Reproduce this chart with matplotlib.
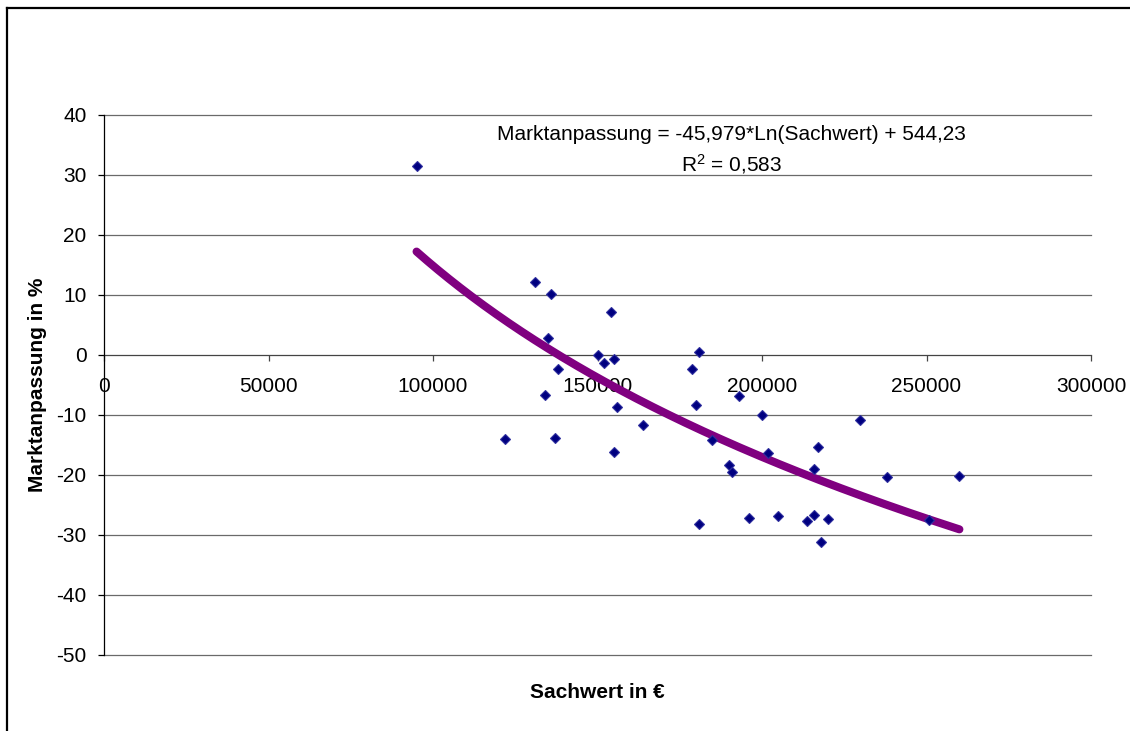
import numpy as np
import matplotlib.pyplot as plt
from matplotlib.lines import Line2D

plt.rcParams['font.family'] = ['Liberation Sans', 'DejaVu Sans']

# Sachwert in EUR and Marktanpassung in %
sachwert = [95000, 122000, 131000, 134100, 135100, 135900, 137000, 138000,
            150100, 152000, 154000, 154900, 154900, 156000, 163800, 178800,
            179800, 180800, 181000, 184700, 189900, 190900, 192900, 195900,
            200000, 201900, 204800, 213800, 215800, 215800, 216900, 218000,
            220100, 229800, 237900, 250900, 260000]
marktanpassung = [31.5, -14.0, 12.1, -6.7, 2.9, 10.2, -13.9, -2.3,
                  0.0, -1.4, 7.1, -0.7, -16.2, -8.6, -11.7, -2.3,
                  -8.4, 0.5, -28.2, -14.2, -18.4, -19.5, -6.8, -27.1,
                  -10.0, -16.4, -26.9, -27.7, -26.7, -19.0, -15.3, -31.2,
                  -27.3, -10.9, -20.3, -27.5, -20.1]

# logarithmic trendline as printed in the chart
trend_a = -45.979
trend_b = 544.23
r2_text = '0,583'

x_ticks = [0, 50000, 100000, 150000, 200000, 250000, 300000]
y_ticks = [-50, -40, -30, -20, -10, 0, 10, 20, 30, 40]

fig = plt.figure(figsize=(11.3, 7.31), dpi=100)
ax = fig.add_axes([104 / 1130, 1 - 655 / 731, 987 / 1130, 540 / 731])

ax.set_xlim(0, 300000)
ax.set_ylim(-50, 40)

# gridlines
for yv in y_ticks:
    if yv != 0:
        ax.axhline(yv, color='#6a6a6a', lw=0.9, zorder=1, clip_on=False)

# trendline
xs = np.linspace(min(sachwert), max(sachwert), 300)
ax.plot(xs, trend_a * np.log(xs) + trend_b, color='#800080', lw=5.8,
        solid_capstyle='round', zorder=3)

# data points
ax.plot(sachwert, marktanpassung, linestyle='none', marker='D', markersize=5.5,
        markerfacecolor='#000080', markeredgecolor='#2e2e9e',
        markeredgewidth=0.8, zorder=4)

# axes styling
ax.spines['top'].set_visible(False)
ax.spines['right'].set_visible(False)
ax.spines['left'].set_color('black')
ax.spines['left'].set_linewidth(0.9)
ax.spines['bottom'].set_position(('data', 0))
ax.spines['bottom'].set_color('#444444')
ax.spines['bottom'].set_linewidth(0.9)
ax.spines['bottom'].set_zorder(2)

ax.set_xticks(x_ticks)
ax.set_xticklabels([str(v) for v in x_ticks])
ax.set_yticks(y_ticks)
ax.set_yticklabels([str(v) for v in y_ticks])
ax.tick_params(axis='both', direction='out', length=4.5, width=0.9,
               labelsize=15, colors='black')
ax.tick_params(axis='x', pad=11, color='#444444')
ax.tick_params(axis='y', pad=8)

ax.text(0.636, 0.982,
        'Marktanpassung = -45,979*Ln(Sachwert) + 544,23\n'
        r'$\mathregular{R^2}$ = ' + r2_text,
        transform=ax.transAxes, ha='center', va='top', fontsize=15,
        linespacing=1.45, multialignment='center')

fig.text(597.5 / 1130, 1 - 692 / 731, 'Sachwert in €', ha='center',
         va='center', fontsize=15, fontweight='bold')
fig.text(38 / 1130, 1 - 385 / 731, 'Marktanpassung in %', ha='center',
         va='center', rotation=90, fontsize=15, fontweight='bold')

# outer frame (top and left edge visible)
fig.add_artist(Line2D([7 / 1130, 1], [1 - 8 / 731, 1 - 8 / 731],
                      transform=fig.transFigure, color='black', lw=1.6))
fig.add_artist(Line2D([7 / 1130, 7 / 1130], [0, 1 - 8 / 731],
                      transform=fig.transFigure, color='black', lw=1.6))

fig.savefig('out.png', dpi=100)
